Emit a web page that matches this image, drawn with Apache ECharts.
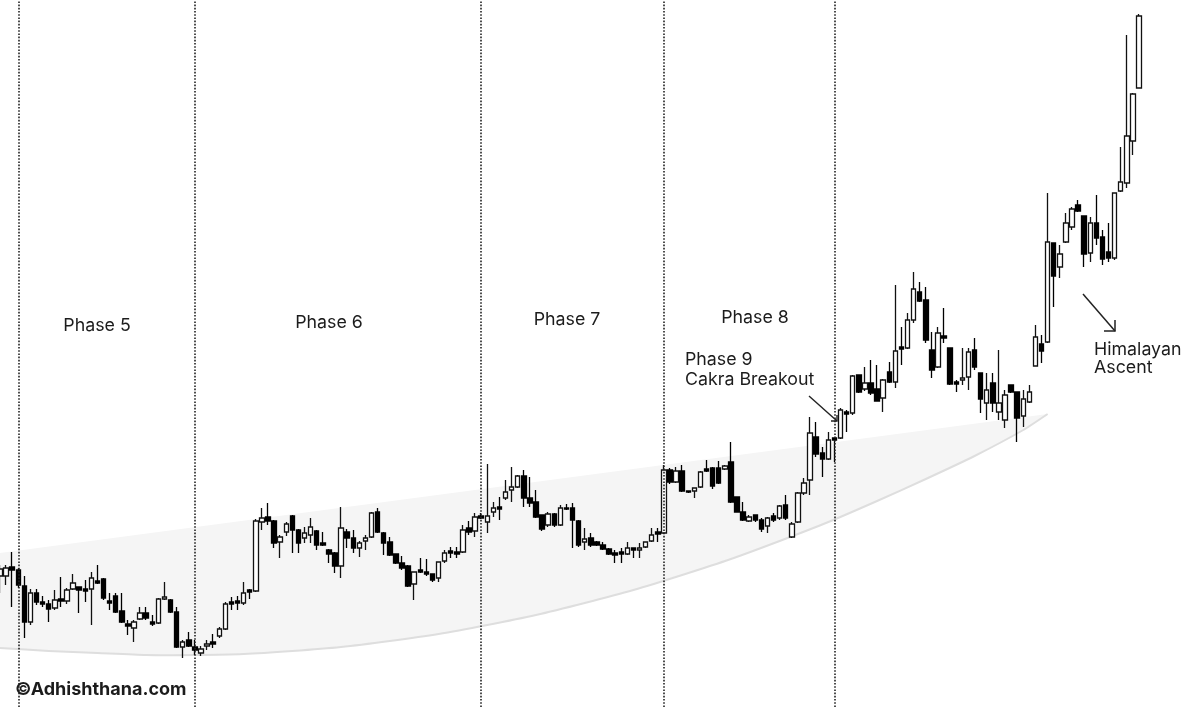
<!DOCTYPE html>
<html>
<head>
<meta charset="utf-8">
<script src="https://cdn.jsdelivr.net/npm/echarts@6/dist/echarts.min.js"></script>
<style>html,body{margin:0;padding:0;background:#fff}#c{width:1200px;height:707px}</style>
</head>
<body>
<div id="c"></div>
<script>
// ---- Data (price units) ----
const opens  = [131,131,140,137,121,85,114,105,103,99,108,106,118,120,118,118,126,128,106,111,96,83,79,88,94,85,84,108,107,95,60,67,60,54,61,65,71,78,105,106,104,117,116,185,190,186,165,175,191,177,169,172,176,164,157,154,141,175,169,159,166,170,195,174,165,153,144,141,123,137,135,133,129,146,156,155,155,179,176,191,185,195,200,209,217,220,231,209,205,192,182,193,182,199,199,186,165,169,165,162,158,154,155,153,159,157,160,166,175,174,237,225,236,216,216,220,238,239,239,238,245,210,195,186,192,187,181,191,189,202,170,185,214,227,270,254,248,269,269,295,294,332,318,324,318,309,335,325,360,359,387,415,407,357,340,371,359,325,327,330,357,334,304,324,295,287,322,315,291,305,341,363,365,464,440,465,480,502,491,454,484,470,455,449,516,524,566,619];
const closes = [138,139,137,122,85,114,105,103,98,107,106,117,124,117,116,129,124,109,104,95,85,81,85,94,89,83,108,110,95,60,65,61,57,58,63,63,78,103,103,104,114,115,186,189,186,164,170,183,177,164,174,180,162,162,153,141,179,169,159,164,169,194,175,164,152,144,139,121,135,135,133,127,145,154,154,153,177,175,190,189,191,199,198,215,220,231,209,204,190,178,193,182,199,198,187,162,168,162,162,158,153,152,153,159,157,159,165,172,173,237,225,236,216,215,219,235,236,221,224,241,205,195,187,190,187,178,189,187,201,189,183,214,224,274,253,248,267,267,297,293,331,315,324,314,306,327,325,356,358,387,418,406,367,337,374,369,323,323,329,355,340,308,317,304,304,312,315,289,308,315,370,356,465,431,453,484,498,496,453,484,469,448,449,514,525,571,613,691];
const lows   = [114,122,100,119,69,82,102,100,85,97,100,103,117,94,105,82,123,107,97,94,84,72,65,87,87,81,83,107,94,59,49,60,52,51,57,59,69,77,97,97,102,108,115,177,182,159,149,171,154,154,164,164,157,161,144,134,129,159,154,150,157,169,174,152,151,143,137,120,107,134,131,125,125,144,149,149,154,172,170,188,174,190,187,207,205,219,200,200,189,176,180,180,181,197,159,160,157,160,161,157,152,144,144,152,149,149,159,165,165,173,223,224,215,214,209,219,235,218,223,237,204,195,186,185,185,175,174,185,187,187,169,184,212,212,250,230,247,245,268,275,292,314,316,312,306,295,324,319,342,358,384,405,364,329,339,364,322,315,322,317,337,294,287,295,287,279,314,265,280,304,341,344,364,400,429,464,477,495,440,445,462,442,445,447,515,519,552,619];
const highs  = [142,142,155,139,131,118,118,111,107,117,130,119,133,120,127,135,142,129,114,114,114,87,87,100,100,92,109,125,108,100,67,75,67,61,67,73,80,105,110,111,125,118,188,199,204,187,172,185,192,178,180,189,177,175,158,155,200,178,177,166,172,195,199,175,170,153,151,142,135,149,148,133,145,157,160,160,182,186,194,194,243,205,210,227,240,232,237,230,217,192,195,194,202,203,204,187,179,174,166,165,159,157,159,165,159,164,165,179,179,242,239,240,242,216,219,236,247,240,246,242,265,210,205,192,192,189,190,194,202,212,185,215,229,290,285,260,275,269,299,297,332,332,340,347,342,328,345,422,380,394,435,425,420,375,380,399,359,327,359,359,369,334,334,334,357,317,322,315,317,322,382,372,514,464,462,494,500,507,491,490,512,477,484,514,560,672,614,693];
const categories = opens.map((_, i) => 'D' + (i + 1));

// phase separators (category indices)
const phaseLineIdx = [3, 32, 79, 109, 137];

// shaded channel edges [category index, price]
const bandUpper = [[0, 154], [172, 293]];
const bandLower = [[0,59],[8,56],[16,54],[24,52],[32,52],[40,53],[48,56],[56,60],[64,66],[72,73],[80,82],[88,92],[96,104],[104,117],[112,132],[120,148],[128,166],[136,185],[144,206],[152,228],[160,251],[168,277],[172,293]];

const labelFont = '17.8px Inter, "Noto Sans", sans-serif';

const chart = echarts.init(document.getElementById('c'), null, {renderer: 'canvas'});

const candleData = opens.map((o, i) => [o, closes[i], lows[i], highs[i]]);

function txt(text, x, y, align, font) {
  return {type: 'text', z: 10, style: {text: text, x: x, y: y, font: font || labelFont, fill: '#1c1c1c',
    textAlign: align, textVerticalAlign: 'middle', align: align, verticalAlign: 'middle'}};
}

chart.setOption({
  animation: false,
  backgroundColor: '#ffffff',
  grid: {left: 0, right: 61, top: 0, bottom: 0, containLabel: false},
  xAxis: {
    type: 'category', data: categories, boundaryGap: false,
    axisLine: {show: false}, axisTick: {show: false}, axisLabel: {show: false}, splitLine: {show: false}
  },
  yAxis: {
    type: 'value', min: 0, max: 707,
    axisLine: {show: false}, axisTick: {show: false}, axisLabel: {show: false}, splitLine: {show: false}
  },
  series: [
    {
      type: 'custom',
      silent: true,
      z: 1,
      data: [[0, 0]],
      renderItem: function (params, api) {
        const up = bandUpper.map(p => api.coord(p));
        const lo = bandLower.map(p => api.coord(p));
        const poly = up.concat(lo.slice().reverse());
        return {
          type: 'group',
          children: [
            {type: 'polygon', shape: {points: poly}, style: {fill: '#f5f5f5', stroke: null}},
            {type: 'polyline', shape: {points: lo, smooth: 0.2}, style: {fill: null, stroke: '#dedede', lineWidth: 2}}
          ]
        };
      }
    },
    {
      type: 'candlestick',
      z: 3,
      data: candleData,
      barWidth: 5,
      itemStyle: {
        color: '#ffffff', color0: '#000000',
        borderColor: '#111111', borderColor0: '#000000',
        borderWidth: 1.3
      },
      markLine: {
        silent: true,
        symbol: ['none', 'none'],
        label: {show: false},
        lineStyle: {color: '#222222', type: 'dotted', width: 1.6},
        data: phaseLineIdx.map(i => ({xAxis: categories[i]}))
      }
    }
  ],
  graphic: [
    txt('Phase 5', 97, 326, 'center'),
    txt('Phase 6', 329, 323, 'center'),
    txt('Phase 7', 567, 320, 'center'),
    txt('Phase 8', 755, 318, 'center'),
    txt('Phase 9', 685, 360, 'left'),
    txt('Cakra Breakout', 685, 380, 'left'),
    txt('Himalayan', 1094, 350, 'left'),
    txt('Ascent', 1094, 368, 'left'),
    txt('©Adhishthana.com', 15, 690, 'left', 'bold 18px Inter, "Noto Sans", sans-serif'),
    {type: 'polyline', z: 10, shape: {points: [[809, 396], [837, 421]]}, style: {stroke: '#222', lineWidth: 1.4, fill: null}},
    {type: 'polyline', z: 10, shape: {points: [[831, 421], [837, 421], [837, 415]]}, style: {stroke: '#222', lineWidth: 1.4, fill: null}},
    {type: 'polyline', z: 10, shape: {points: [[1083, 294], [1115, 331]]}, style: {stroke: '#222', lineWidth: 1.5, fill: null}},
    {type: 'polyline', z: 10, shape: {points: [[1104, 331], [1115, 331], [1115, 320]]}, style: {stroke: '#222', lineWidth: 1.5, fill: null}}
  ]
});
</script>
</body>
</html>
